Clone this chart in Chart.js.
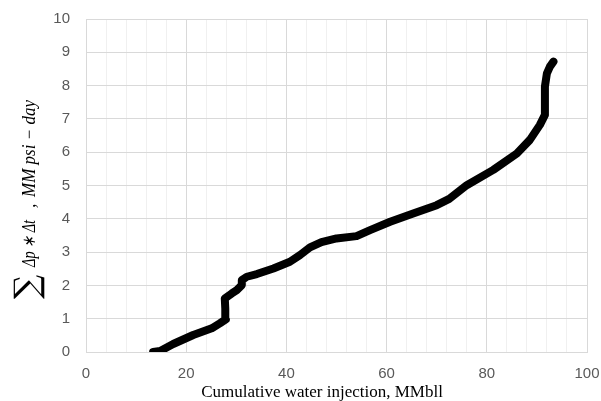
<!doctype html>
<html lang="en">
  <head>
    <meta charset="UTF-8" />
    <title>Cumulative injection</title>
    <script src="https://cdn.jsdelivr.net/npm/chart.js"></script>
    <style>
      body {
        margin: 0;
        padding: 0;
        background-color: #ffffff;
      }
      .chart-container {
        position: relative;
        width: 601px;
        height: 401px;
      }
    </style>
  </head>
  <body>
    <div class="chart-container">
      <canvas id="injChart"></canvas>
    </div>

    <script>
      const injection = [13.4, 14.8, 17.4, 21.4, 25.1, 26.7, 27.9, 27.8, 27.7, 29.1, 30.1, 31.1, 31.1, 32.1, 34.1, 37.4, 40.7, 42.7, 44.7, 47.0, 50.0, 54.0, 56.7, 60.7, 65.3, 70.0, 72.5, 76.0, 81.3, 86.0, 88.6, 90.6, 91.6, 91.6, 92.0, 92.6, 93.3];
      const sumDpDt = [0, 0.03, 0.24, 0.51, 0.71, 0.86, 0.98, 1.3, 1.61, 1.76, 1.86, 2.01, 2.16, 2.26, 2.34, 2.51, 2.71, 2.91, 3.14, 3.3, 3.41, 3.48, 3.66, 3.91, 4.16, 4.41, 4.6, 5.01, 5.47, 5.96, 6.37, 6.82, 7.12, 7.97, 8.37, 8.57, 8.72];
      const xLabelTicks = [0, 20, 40, 60, 80, 100];
      const yTicks = [0, 1, 2, 3, 4, 5, 6, 7, 8, 9, 10];

      const xTitle = 'Cumulative water injection, MMbll';
      const yTitleSigma = '\u2211';
      const yTitleParts = ['\u0394p \u2217 \u0394t', ',', 'MM psi \u2212 day'];

      const points = injection.map((x, i) => ({ x: x, y: sumDpDt[i] }));

      function noOverflow(scale) {
        scale.paddingTop = 0;
        scale.paddingBottom = 0;
        scale.paddingLeft = 0;
        scale.paddingRight = 0;
      }

      // axis titles drawn by hand so the sum sign can be larger
      const titlesPlugin = {
        id: 'titles',
        afterDraw(chart) {
          const ctx = chart.ctx;
          ctx.save();
          ctx.fillStyle = '#000000';
          ctx.textBaseline = 'alphabetic';
          ctx.font = '17px "Liberation Serif", serif';
          ctx.textAlign = 'center';
          ctx.fillText(xTitle, 322, 397);

          ctx.rotate(-Math.PI / 2);
          ctx.textAlign = 'left';
          ctx.font = '34px "DejaVu Serif", serif';
          ctx.fillText(yTitleSigma, -299, 38);
          ctx.font = 'italic 18px "Liberation Serif", serif';
          const w0 = ctx.measureText(yTitleParts[0]).width;
          const w2 = ctx.measureText(yTitleParts[2]).width;
          ctx.save();
          ctx.translate(-267, 35);
          ctx.scale(47 / w0, 1);
          ctx.fillText(yTitleParts[0], 0, 0);
          ctx.restore();
          ctx.fillText(yTitleParts[1], -208, 35);
          ctx.save();
          ctx.translate(-197, 35);
          ctx.scale(97 / w2, 1);
          ctx.fillText(yTitleParts[2], 0, 0);
          ctx.restore();
          ctx.restore();
        },
      };

      const ctx = document.getElementById('injChart').getContext('2d');
      new Chart(ctx, {
        type: 'scatter',
        data: {
          datasets: [
            {
              data: points,
              showLine: true,
              borderColor: '#000000',
              backgroundColor: '#000000',
              borderWidth: 8,
              borderCapStyle: 'round',
              borderJoinStyle: 'round',
              pointRadius: 0,
              tension: 0,
            },
          ],
        },
        options: {
          responsive: true,
          maintainAspectRatio: false,
          animation: false,
          layout: { padding: { top: 19, right: 14, left: 0, bottom: 0 } },
          plugins: {
            legend: { display: false },
            tooltip: { enabled: false },
          },
          scales: {
            x: {
              type: 'linear',
              min: 0,
              max: 100,
              afterFit(scale) {
                scale.height = 49;
                noOverflow(scale);
              },
              afterBuildTicks(scale) {
                const t = [];
                for (let v = 0; v <= 100; v += 4) t.push({ value: v });
                xLabelTicks.forEach((v) => {
                  if (!t.find((k) => k.value === v)) t.push({ value: v });
                });
                t.sort((a, b) => a.value - b.value);
                scale.ticks = t;
              },
              ticks: {
                autoSkip: false,
                maxRotation: 0,
                padding: 13,
                color: '#595959',
                font: { family: '"Liberation Sans", Arial, sans-serif', size: 15 },
                callback: (v) => (xLabelTicks.includes(v) ? String(v) : ''),
              },
              grid: {
                drawTicks: false,
                color: (c) => (c.tick && c.tick.value % 20 === 0 ? '#d9d9d9' : '#f0f0f0'),
                lineWidth: 1,
              },
              border: { color: '#d9d9d9' },
            },
            y: {
              min: 0,
              max: 10,
              afterFit(scale) {
                scale.width = 86;
                noOverflow(scale);
              },
              afterBuildTicks(scale) {
                scale.ticks = yTicks.map((v) => ({ value: v }));
              },
              ticks: {
                padding: 16,
                color: '#595959',
                font: { family: '"Liberation Sans", Arial, sans-serif', size: 15 },
              },
              grid: {
                drawTicks: false,
                color: '#d9d9d9',
              },
              border: { color: '#d9d9d9' },
            },
          },
        },
        plugins: [titlesPlugin],
      });
    </script>
  </body>
</html>
